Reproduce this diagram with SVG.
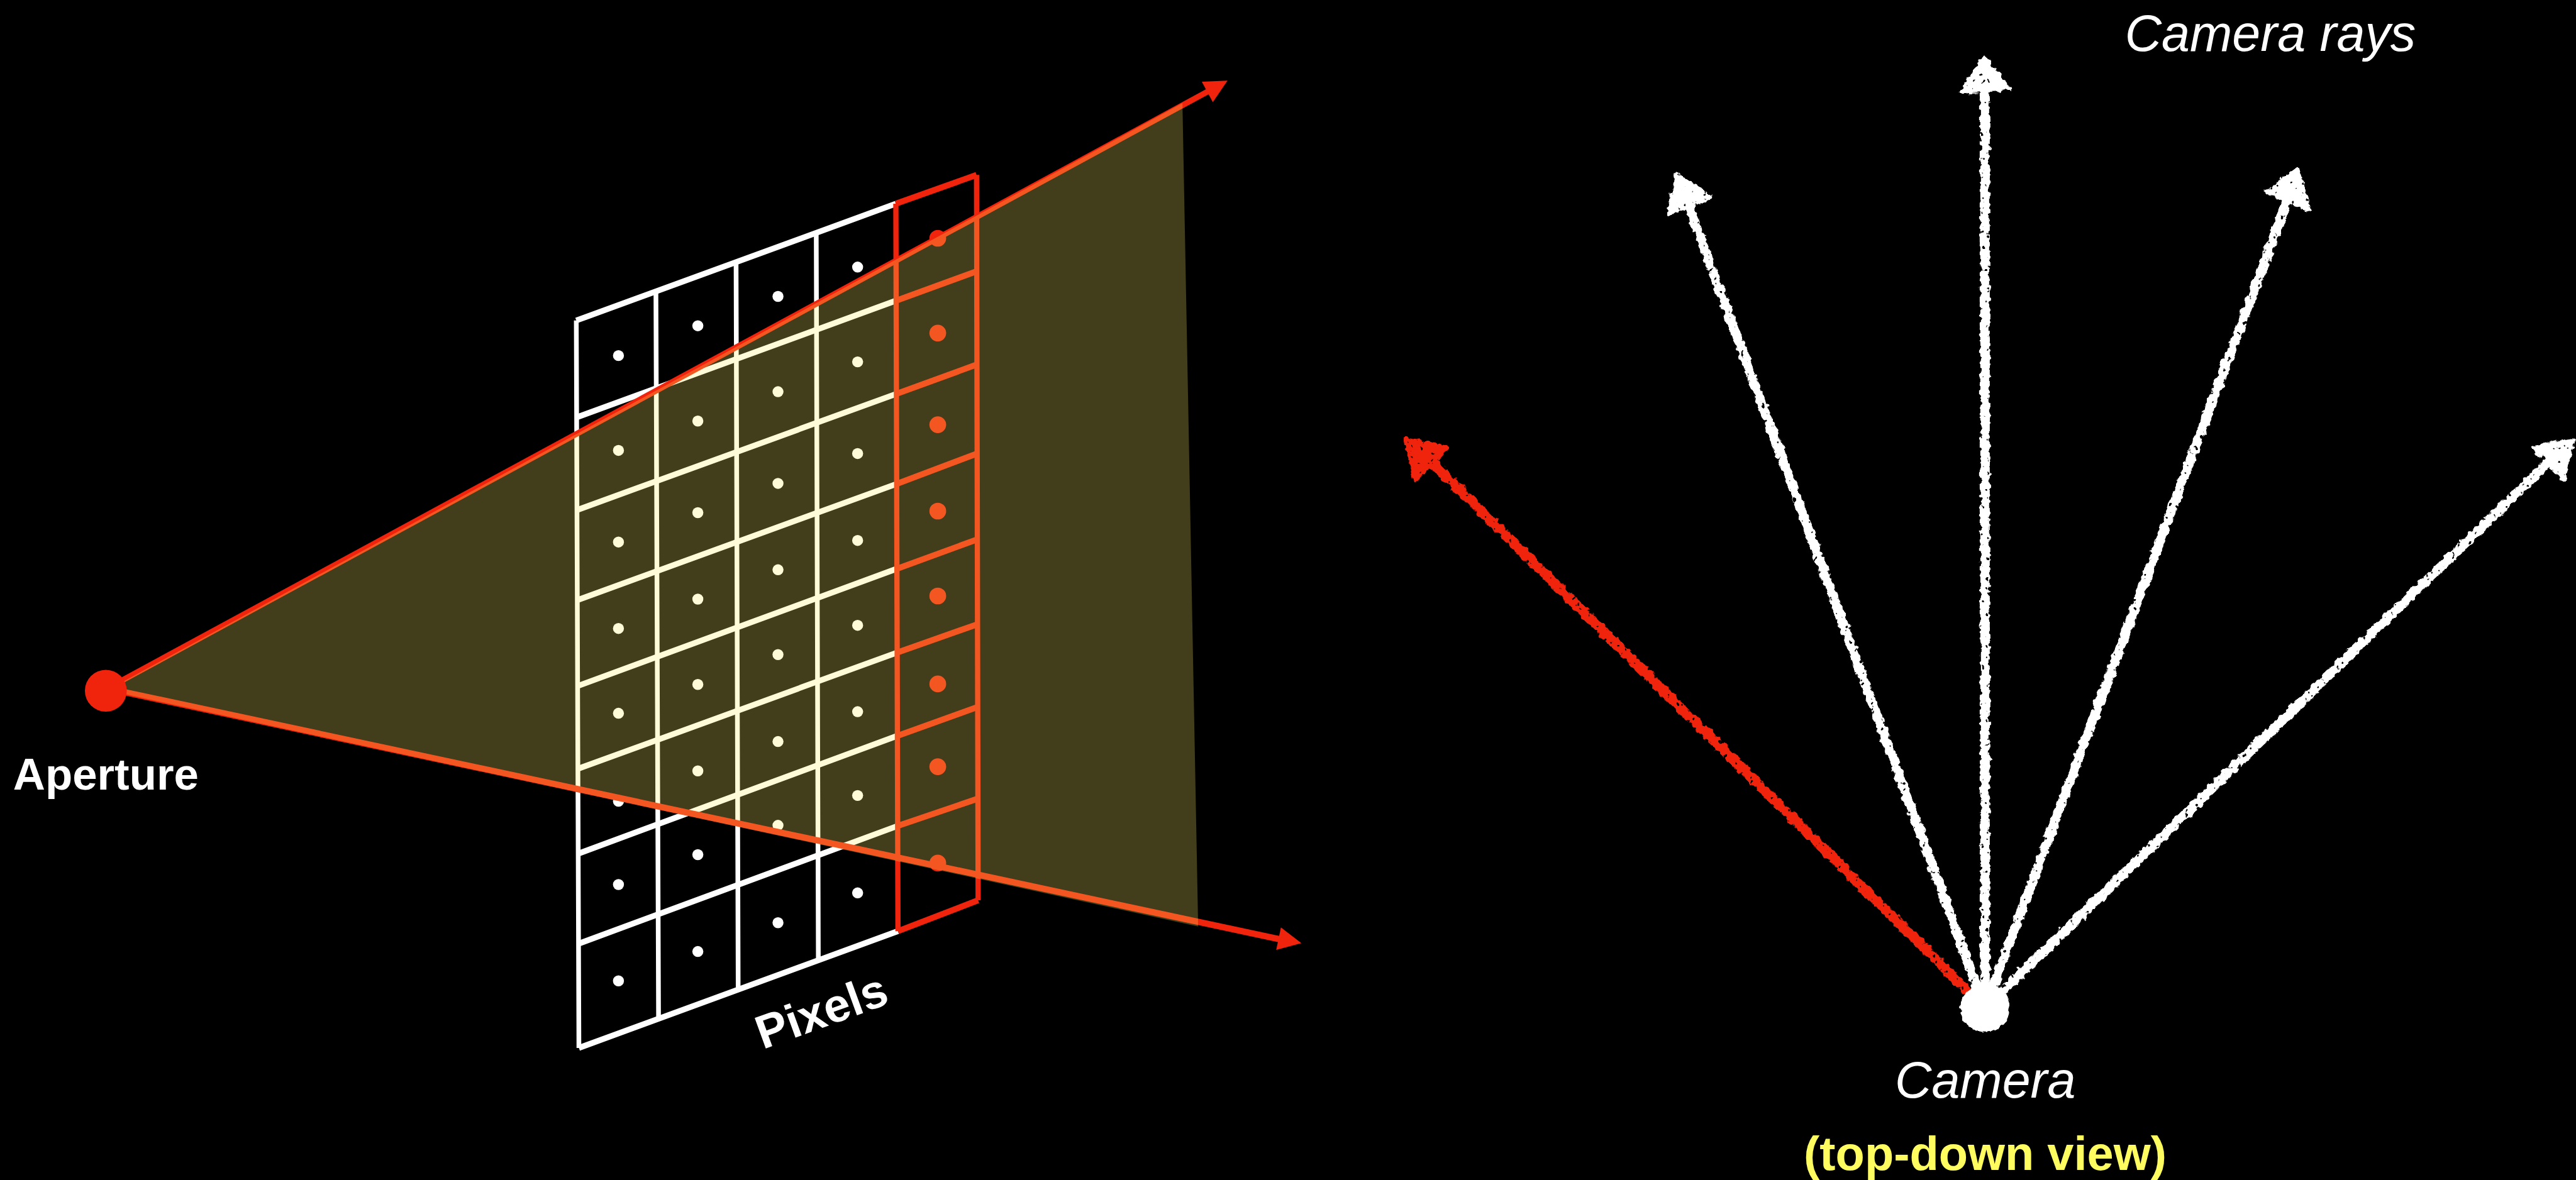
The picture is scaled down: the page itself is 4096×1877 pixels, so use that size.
<svg xmlns="http://www.w3.org/2000/svg" width="4096" height="1877" viewBox="0 0 4096 1877">
<style>
.w{fill:none;stroke:#fff;stroke-width:9}
.wr{fill:none;stroke:#fff;stroke-width:11}
.r{fill:none;stroke:#f0230c;stroke-width:10}
.rr{fill:none;stroke:#f0230c;stroke-width:11.5}
.dw{fill:#fff}
.dr{fill:#f0230c}
.arrow{stroke:#f0230c;fill:none}
.head{fill:#f0230c}
.cw{stroke:#fff;stroke-width:18;fill:none}
.cr{stroke:#f0230c;stroke-width:19;fill:none}
.hw{fill:#fff;stroke:#fff;stroke-width:6;stroke-linejoin:round}
.hr{fill:#f0230c;stroke:#f0230c;stroke-width:6;stroke-linejoin:round}
text{font-family:"Liberation Sans",Arial,sans-serif}
.b{font-weight:700;fill:#fff}
.i{font-style:italic;fill:#fff;font-size:97px}
</style>
<defs>
<filter id="chalk" filterUnits="userSpaceOnUse" x="2600" y="40" width="2317" height="2000" color-interpolation-filters="sRGB">
<feTurbulence type="fractalNoise" baseFrequency="0.09" numOctaves="2" seed="4" result="n"/>
<feDisplacementMap in="SourceGraphic" in2="n" scale="12" xChannelSelector="R" yChannelSelector="G" result="d"/>
<feTurbulence type="fractalNoise" baseFrequency="0.1" numOctaves="2" seed="9" result="m"/>
<feColorMatrix in="m" type="matrix" values="0 0 0 0 0 0 0 0 0 0 0 0 0 0 0 -16 0 0 0 12.2" result="h"/>
<feComposite in="d" in2="h" operator="in"/>
</filter>
<filter id="rough" filterUnits="userSpaceOnUse" x="3700" y="1830" width="180" height="190" color-interpolation-filters="sRGB">
<feTurbulence type="fractalNoise" baseFrequency="0.09" numOctaves="2" seed="7" result="n"/>
<feDisplacementMap in="SourceGraphic" in2="n" scale="12" xChannelSelector="R" yChannelSelector="G"/>
</filter>
</defs>
<rect id="background" width="4096" height="1877" fill="#000"/>
<g transform="scale(0.83303)">
<g id="pixels-grid">
<g id="grid-lines">
<path class="w" d="M1100 612L1105 2001M1252 558L1257 1945M1405 502L1409 1890M1558 445L1562 1834"/>
<path class="wr" d="M1100 612L1710 389M1100.6 797L1710.5 574M1101.2 974L1711 752M1101.9 1146L1711.5 924M1102.5 1310L1712 1086M1103.1 1468L1712.5 1246M1103.8 1630L1713 1405M1104.4 1802L1713.5 1577M1105 2001L1714 1778"/>
</g>
<g id="highlight-column">
<path class="r" d="M1710 389L1714 1778M1864 334L1867 1719"/>
<path class="rr" d="M1710 389L1864 334M1714 1778L1867 1719M1710.5 574L1864.4 518M1711 752L1864.8 696M1711.5 924L1865.1 866M1712 1086L1865.5 1030M1712.5 1246L1865.9 1192M1713 1405L1866.3 1350M1713.5 1577L1866.6 1525"/>
</g>
<g id="pixel-centers" class="dw">
<circle cx="1180.5" cy="679" r="10.5"/><circle cx="1180.5" cy="860" r="10.5"/><circle cx="1180.5" cy="1035" r="10.5"/><circle cx="1180.5" cy="1200" r="10.5"/><circle cx="1180.5" cy="1362" r="10.5"/><circle cx="1180.5" cy="1530" r="10.5"/><circle cx="1180.5" cy="1689" r="10.5"/><circle cx="1180.5" cy="1873" r="10.5"/>
<circle cx="1332" cy="622" r="10.5"/><circle cx="1332" cy="804" r="10.5"/><circle cx="1332" cy="979" r="10.5"/><circle cx="1332" cy="1144" r="10.5"/><circle cx="1332" cy="1307" r="10.5"/><circle cx="1332" cy="1472" r="10.5"/><circle cx="1332" cy="1632" r="10.5"/><circle cx="1332" cy="1817" r="10.5"/>
<circle cx="1485" cy="566" r="10.5"/><circle cx="1485" cy="748" r="10.5"/><circle cx="1485" cy="923" r="10.5"/><circle cx="1485" cy="1088" r="10.5"/><circle cx="1485" cy="1250" r="10.5"/><circle cx="1485" cy="1416" r="10.5"/><circle cx="1485" cy="1576" r="10.5"/><circle cx="1485" cy="1762" r="10.5"/>
<circle cx="1637" cy="510" r="10.5"/><circle cx="1637" cy="691" r="10.5"/><circle cx="1637" cy="866" r="10.5"/><circle cx="1637" cy="1032" r="10.5"/><circle cx="1637" cy="1194" r="10.5"/><circle cx="1637" cy="1359" r="10.5"/><circle cx="1637" cy="1519" r="10.5"/><circle cx="1637" cy="1705" r="10.5"/>
</g>
<g id="highlight-centers" class="dr">
<circle cx="1790" cy="455" r="16"/><circle cx="1790" cy="636" r="16"/><circle cx="1790" cy="811" r="16"/><circle cx="1790" cy="976" r="16"/><circle cx="1790" cy="1138" r="16"/><circle cx="1790" cy="1306" r="16"/><circle cx="1790" cy="1464" r="16"/><circle cx="1790" cy="1648" r="16"/>
</g>
</g>
<g id="connectors">
<g id="aperture-rays">
<line class="arrow" stroke-width="11" x1="202" y1="1316" x2="2305" y2="175"/>
<polygon class="head" points="2343,154 2294,156 2315,195"/>
<line class="arrow" stroke-width="12" x1="202" y1="1314" x2="2445" y2="1794"/>
<polygon class="head" points="2484,1801 2445,1771 2436,1814"/>
</g>
<g id="camera-rays" filter="url(#chalk)">
<line class="cr" x1="3789" y1="1925" x2="2715" y2="865"/>
<polygon class="hr" points="2682,837 2763,854 2701,918"/>
<line class="cw" x1="3789" y1="1925" x2="3215" y2="370"/>
<polygon class="hw" points="3199,332 3266,377 3185,410"/>
<line class="cw" x1="3789" y1="1925" x2="3789" y2="150"/>
<polygon class="hw" points="3787,108 3835,170 3744,176"/>
<line class="cw" x1="3789" y1="1925" x2="4375" y2="360"/>
<polygon class="hw" points="4386,323 4409,402 4325,367"/>
<line class="cw" x1="3789" y1="1925" x2="4880" y2="868"/>
<polygon class="hw" points="4912,838 4834,854 4894,916"/>
</g>
</g>
<polygon id="frustum" points="205,1318 2257,197 2287,1769" fill="#feeb64" fill-opacity="0.26"/>
<g id="aperture">
<circle cx="202" cy="1319" r="40" fill="#f0230c"/>
<text class="b" x="25" y="1508" font-size="85">Aperture</text>
</g>
<text id="pixels-label" class="b" font-size="90" transform="translate(1456 2004) rotate(-20)">Pixels</text>
<g id="camera" filter="url(#rough)">
<circle cx="3789" cy="1925" r="47" fill="#fff"/>
</g>
<text id="camera-label" class="i" x="3617" y="2096">Camera</text>
<text id="view-label" x="3443" y="2234" font-weight="700" font-size="91" fill="#fffc60">(top-down view)</text>
<text id="rays-label" class="i" x="4056" y="97" font-size="96.5">Camera rays</text>
</g>
</svg>
